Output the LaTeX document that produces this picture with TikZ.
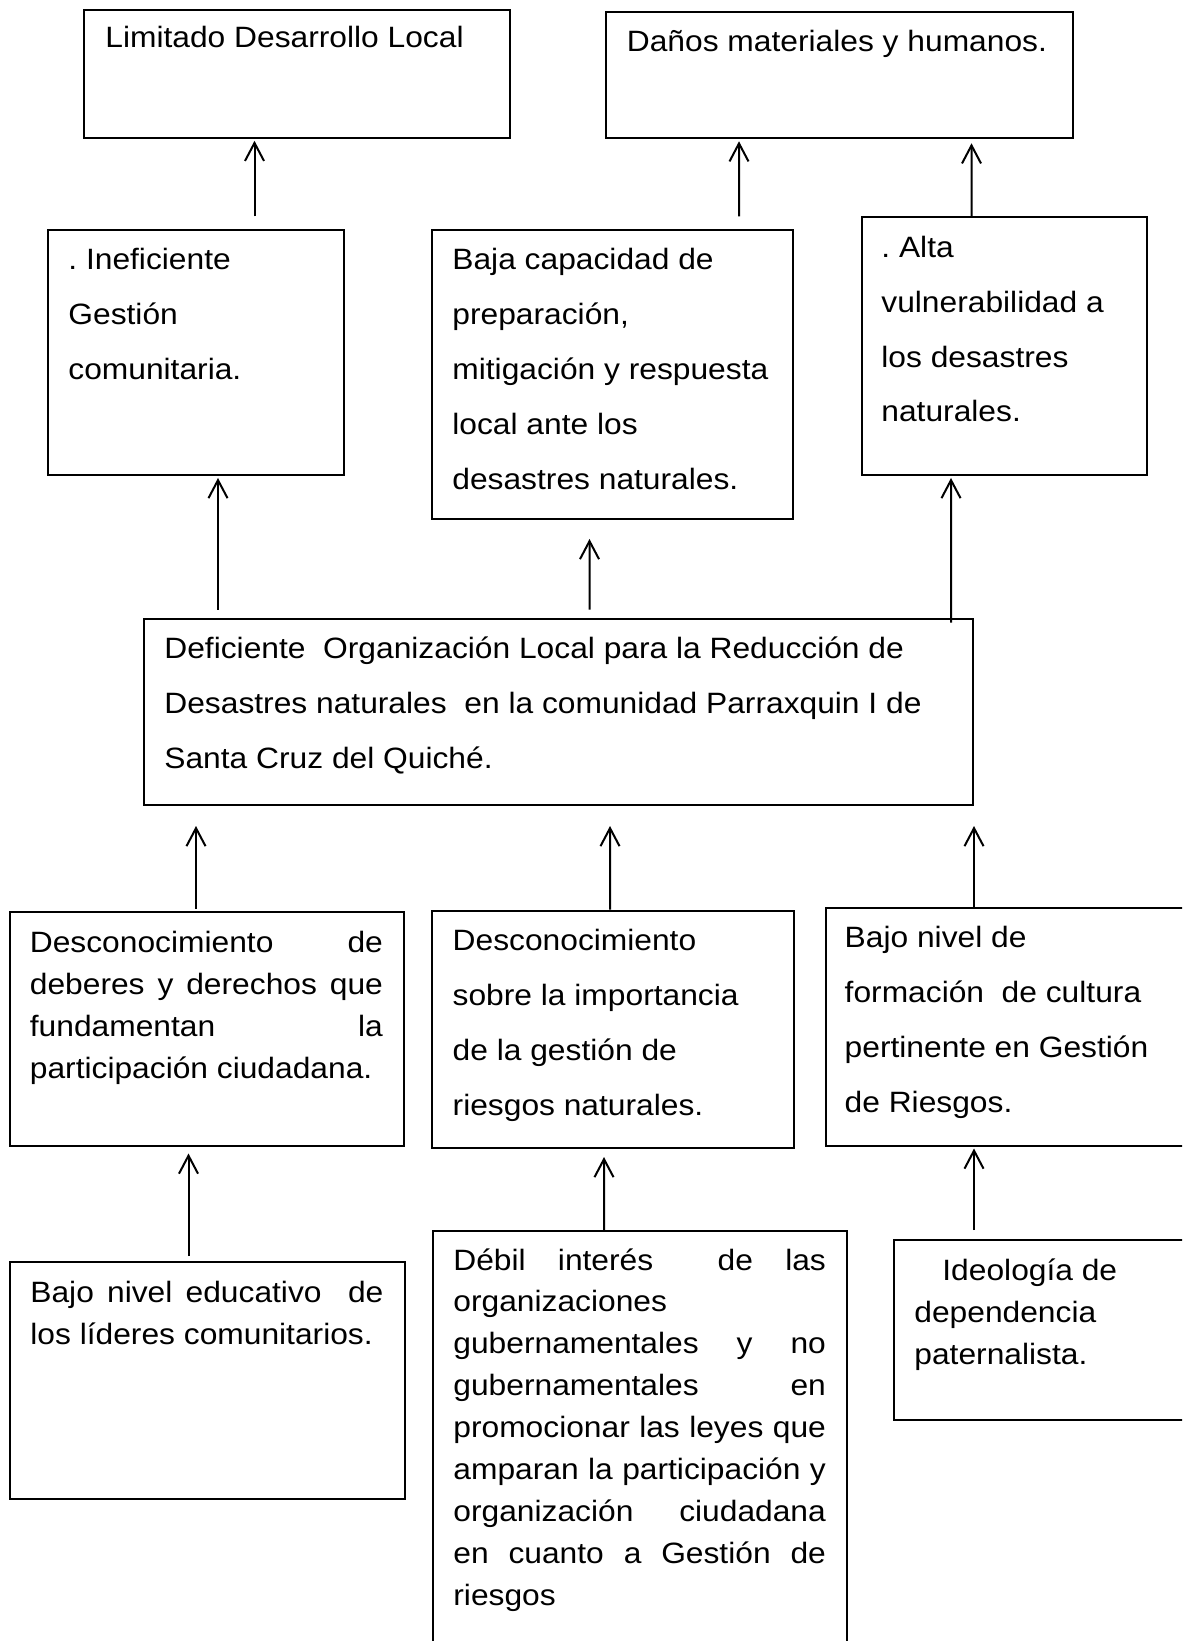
\documentclass[tikz,border=0pt]{standalone}
\usepackage{fontspec}
\setmainfont{Liberation Sans}[FakeStretch=1.08]
\usetikzlibrary{arrows.meta,calc}
\frenchspacing
\newcommand{\mytbox}[3]{\parbox[t]{#1}{\setlength{\baselineskip}{#2}\setlength{\lineskiplimit}{-50pt}#3}}
\newcommand{\jline}[1]{\makebox[\linewidth][s]{#1}}
\tikzset{
  box/.style={draw, line width=1pt, inner sep=0pt, anchor=north west},
  txt/.style={inner sep=0pt, anchor=base west, font=\fontsize{14.7pt}{20pt}\selectfont},
  arr/.style={line width=1pt, -{Straight Barb[length=9pt,width=9.5pt]}},
}
\begin{document}
\begin{tikzpicture}[x=0.5pt,y=-0.5pt]
\useasboundingbox (0,0) rectangle (1182,1641);
\fill[white] (0,0) rectangle (1182,1641);
\clip (0,0) rectangle (1182,1641);

% boxes
\node[box, minimum width=213pt, minimum height=64pt] (A) at (82.5,8.8) {};
\node[box, minimum width=233.5pt, minimum height=63.25pt] (B) at (605,10.8) {};
\node[box, minimum width=148pt, minimum height=122.5pt] (C) at (47,229) {};
\node[box, minimum width=180.65pt, minimum height=144.75pt] (D) at (430.7,229) {};
\node[box, minimum width=142.7pt, minimum height=128.85pt] (E) at (860.8,216.3) {};
\node[box, minimum width=414.5pt, minimum height=93.25pt] (F) at (142.5,617.5) {};
\node[box, minimum width=197pt, minimum height=117pt] (G) at (9,910.5) {};
\node[box, minimum width=181pt, minimum height=118.75pt] (H) at (430.7,909.5) {};
\node[box, minimum width=185pt, minimum height=118.75pt] (I) at (825,907) {};
\node[box, minimum width=197.5pt, minimum height=118.25pt] (J) at (9,1261) {};
\node[box, minimum width=207.25pt, minimum height=215pt] (K) at (431.5,1230) {};
\node[box, minimum width=150pt, minimum height=90pt] (L) at (892.5,1238.5) {};

% texts
\node[txt] (tA) at (105,47.3) {\mytbox{250pt}{20pt}{Limitado Desarrollo Local}};
\node[txt] (tB) at (626.5,51.5) {\mytbox{250pt}{20pt}{Daños materiales y humanos.}};
\node[txt] (tC) at (68,270) {\mytbox{140pt}{27.4pt}{. Ineficiente\\Gestión\\comunitaria.}};
\node[txt] (tD) at (452,270) {\mytbox{180pt}{27.4pt}{Baja capacidad de\\preparación,\\mitigación y respuesta\\local ante los\\desastres naturales.}};
\node[txt] (tE) at (881,257.5) {\mytbox{140pt}{27.4pt}{. Alta\\vulnerabilidad a\\los desastres\\naturales.}};
\node[txt] (tF) at (164,658.5) {\mytbox{410pt}{27.5pt}{Deficiente\ \ Organización Local para la Reducción de\\Desastres naturales\ \ en la comunidad Parraxquin I de\\Santa Cruz del Quiché.}};
\node[txt] (tG) at (29.5,952.5) {\mytbox{176.5pt}{21pt}{\jline{Desconocimiento de}\\\jline{deberes y derechos que}\\\jline{fundamentan la}\\participación ciudadana.}};
\node[txt] (tH) at (452.3,950.5) {\mytbox{180pt}{27.5pt}{Desconocimiento\\sobre la importancia\\de la gestión de\\riesgos naturales.}};
\node[txt] (tI) at (844.3,947.5) {\mytbox{180pt}{27.5pt}{Bajo nivel de\\formación\ \ de cultura\\pertinente en Gestión\\de Riesgos.}};
\node[txt] (tJ) at (30,1302.5) {\mytbox{176.5pt}{21pt}{\jline{Bajo nivel educativo\ \ de}\\los líderes comunitarios.}};
\node[txt] (tK) at (453,1270) {\mytbox{186.25pt}{20.95pt}{\jline{Débil interés\ \ de las}\\organizaciones\\\jline{gubernamentales y no}\\\jline{gubernamentales en}\\\jline{promocionar las leyes que}\\\jline{amparan la participación y}\\\jline{organización ciudadana}\\\jline{en cuanto a Gestión de}\\riesgos}};
\node[txt] (tL) at (914,1280) {\mytbox{140pt}{21pt}{\hspace*{14pt}Ideología de\\dependencia\\paternalista.}};

% connectors
\draw[arr] ($(C.north west)+(207.5,-12.5)$) -- ($(A.south west)+(172,2)$);
\draw[arr] ($(D.north west)+(308.3,-12.5)$) -- ($(B.south west)+(134,2)$);
\draw[arr] ($(E.north west)+(110.7,0)$) -- ($(B.south west)+(366.5,4)$);
\draw[arr] ($(F.north west)+(75.5,-8)$) -- ($(C.south west)+(171,2)$);
\draw[arr] ($(F.north west)+(447,-8)$) -- ($(D.south west)+(158.8,18.5)$);
\draw[arr] ($(F.north west)+(808.5,5)$) -- ($(E.south west)+(90.2,2)$);
\draw[arr] ($(G.north west)+(187,-2)$) -- ($(F.south west)+(53.5,20)$);
\draw[arr] ($(H.north west)+(179.3,0)$) -- ($(F.south west)+(467.5,20)$);
\draw[arr] ($(I.north west)+(149,0)$) -- ($(F.south west)+(831.5,20)$);
\draw[arr] ($(J.north west)+(179.5,-5)$) -- ($(G.south west)+(179.5,7)$);
\draw[arr] ($(K.north west)+(172.5,0)$) -- ($(H.south west)+(173.3,8)$);
\draw[arr] ($(L.north west)+(81.5,-8.5)$) -- ($(I.south west)+(149,2)$);
\end{tikzpicture}
\end{document}
